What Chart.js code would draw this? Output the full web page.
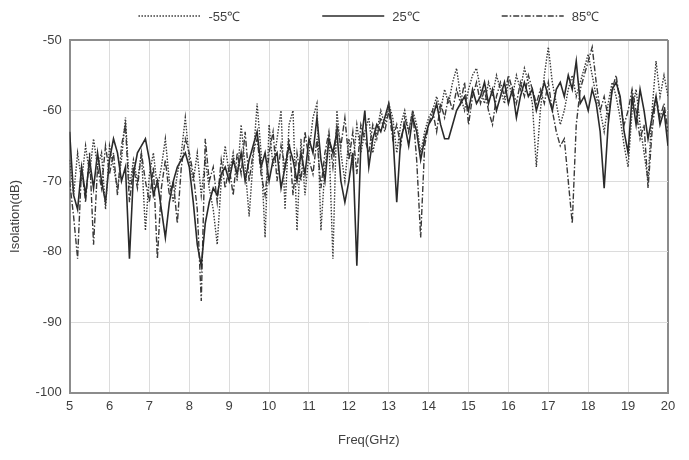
<!DOCTYPE html>
<html>
<head>
<meta charset="utf-8">
<script src="https://cdn.jsdelivr.net/npm/chart.js@4.4.1/dist/chart.umd.min.js"></script>
<style>
  html, body { margin: 0; padding: 0; background: #fff; }
  #wrap { width: 689px; height: 460px; }
</style>
</head>
<body>
<div id="wrap"><canvas id="isoChart"></canvas></div>
<script>
// Freq (GHz) points, 0.1 GHz step
const freq = [
  5.0,5.1,5.2,5.3,5.4,5.5,5.6,5.7,5.8,5.9,
  6.0,6.1,6.2,6.3,6.4,6.5,6.6,6.7,6.8,6.9,
  7.0,7.1,7.2,7.3,7.4,7.5,7.6,7.7,7.8,7.9,
  8.0,8.1,8.2,8.3,8.4,8.5,8.6,8.7,8.8,8.9,
  9.0,9.1,9.2,9.3,9.4,9.5,9.6,9.7,9.8,9.9,
  10.0,10.1,10.2,10.3,10.4,10.5,10.6,10.7,10.8,10.9,
  11.0,11.1,11.2,11.3,11.4,11.5,11.6,11.7,11.8,11.9,
  12.0,12.1,12.2,12.3,12.4,12.5,12.6,12.7,12.8,12.9,
  13.0,13.1,13.2,13.3,13.4,13.5,13.6,13.7,13.8,13.9,
  14.0,14.1,14.2,14.3,14.4,14.5,14.6,14.7,14.8,14.9,
  15.0,15.1,15.2,15.3,15.4,15.5,15.6,15.7,15.8,15.9,
  16.0,16.1,16.2,16.3,16.4,16.5,16.6,16.7,16.8,16.9,
  17.0,17.1,17.2,17.3,17.4,17.5,17.6,17.7,17.8,17.9,
  18.0,18.1,18.2,18.3,18.4,18.5,18.6,18.7,18.8,18.9,
  19.0,19.1,19.2,19.3,19.4,19.5,19.6,19.7,19.8,19.9,
  20.0
];

// Isolation (dB) at -55C
const isoCold = [
  -67,-72,-66,-70,-65,-69,-64,-68,-66,-74,
  -65,-68,-71,-67,-61,-71,-67,-70,-66,-77,
  -69,-66,-71,-68,-64,-70,-73,-69,-66,-61,
  -67,-70,-66,-72,-67,-71,-74,-79,-70,-65,
  -69,-66,-70,-62,-68,-75,-67,-59,-66,-78,
  -62,-68,-64,-60,-74,-62,-60,-77,-64,-72,
  -66,-61,-59,-77,-68,-64,-81,-60,-66,-70,
  -64,-68,-62,-66,-63,-61,-66,-63,-60,-62,
  -59,-61,-66,-62,-60,-63,-60,-62,-66,-63,
  -61,-60,-58,-60,-57,-59,-56,-54,-58,-60,
  -57,-55,-54,-57,-59,-56,-58,-55,-57,-59,
  -56,-58,-55,-57,-54,-56,-59,-68,-60,-55,
  -51,-56,-59,-62,-60,-57,-55,-58,-56,-54,
  -52,-55,-58,-60,-63,-59,-56,-58,-61,-65,
  -68,-60,-57,-62,-66,-70,-60,-53,-58,-55,
  -58
];

// Isolation (dB) at 25C
const isoRoom = [
  -63,-72,-74,-68,-72,-67,-71,-66,-70,-73,
  -67,-64,-66,-70,-68,-81,-69,-66,-65,-64,
  -67,-72,-70,-74,-78,-73,-70,-68,-67,-66,
  -68,-73,-79,-82,-76,-73,-71,-72,-69,-68,
  -70,-67,-69,-66,-70,-67,-65,-63,-68,-66,
  -70,-67,-66,-71,-68,-65,-67,-70,-66,-69,
  -64,-66,-61,-67,-70,-64,-66,-63,-70,-73,
  -70,-66,-82,-65,-60,-68,-64,-62,-63,-61,
  -59,-63,-73,-64,-62,-65,-61,-63,-67,-64,
  -62,-61,-59,-62,-64,-64,-62,-60,-59,-58,
  -60,-57,-59,-58,-56,-59,-57,-60,-58,-56,
  -59,-57,-61,-58,-56,-58,-57,-60,-58,-56,
  -58,-60,-57,-56,-58,-55,-57,-53,-59,-58,
  -60,-57,-59,-63,-71,-62,-57,-56,-58,-63,
  -66,-58,-62,-57,-60,-64,-61,-58,-62,-60,
  -65
];

// Isolation (dB) at 85C
const isoHot = [
  -70,-75,-81,-68,-73,-66,-79,-68,-71,-65,
  -69,-66,-72,-65,-62,-73,-68,-71,-66,-70,
  -73,-68,-81,-71,-67,-72,-70,-76,-68,-64,
  -66,-69,-74,-87,-64,-70,-68,-73,-67,-71,
  -68,-72,-66,-69,-63,-70,-66,-64,-69,-72,
  -66,-63,-70,-65,-68,-64,-72,-66,-70,-63,
  -67,-69,-64,-71,-66,-63,-68,-62,-65,-61,
  -67,-63,-69,-62,-64,-66,-62,-64,-61,-63,
  -60,-64,-62,-65,-61,-63,-60,-67,-78,-65,
  -62,-60,-63,-59,-61,-58,-60,-57,-59,-56,
  -62,-58,-56,-59,-57,-60,-62,-58,-56,-58,
  -55,-57,-59,-56,-58,-55,-57,-59,-57,-59,
  -56,-60,-63,-65,-64,-70,-76,-62,-57,-55,
  -53,-51,-56,-60,-58,-61,-57,-55,-59,-62,
  -60,-57,-60,-64,-62,-71,-63,-58,-61,-59,
  -63
];

const seriesNames = ['-55\u2103', '25\u2103', '85\u2103'];
const xTicks = [5,6,7,8,9,10,11,12,13,14,15,16,17,18,19,20];
const yTicks = [-100,-90,-80,-70,-60,-50];

const FONT = "'Liberation Sans Narrow', 'Liberation Sans', Arial, sans-serif";
const TEXT = '#404040';
const FRAME = '#8c8c8c';
const GRID = '#dcdcdc';

function pts(vals) {
  return freq.map((f, i) => ({ x: f, y: vals[i] }));
}

// legend drawn above the plot, using each dataset's own line style
const topLegend = {
  id: 'topLegend',
  afterDraw(chart) {
    const ctx = chart.ctx;
    const sets = chart.data.datasets;
    const lineW = 62, gap = 8, spacing = 82;
    ctx.save();
    ctx.font = '13px ' + FONT;
    const widths = sets.map(d => lineW + gap + ctx.measureText(d.label).width);
    const total = widths.reduce((a, b) => a + b, 0) + spacing * (sets.length - 1);
    const area = chart.chartArea;
    let x = (area.left + area.right) / 2 - total / 2;
    const y = 16;
    sets.forEach((d, i) => {
      ctx.beginPath();
      ctx.strokeStyle = d.borderColor;
      ctx.lineWidth = d.borderWidth;
      ctx.setLineDash(d.borderDash || []);
      ctx.moveTo(x, y);
      ctx.lineTo(x + lineW, y);
      ctx.stroke();
      ctx.setLineDash([]);
      ctx.fillStyle = TEXT;
      ctx.textBaseline = 'middle';
      ctx.textAlign = 'left';
      ctx.fillText(d.label, x + lineW + gap, y + 1);
      x += widths[i] + spacing;
    });
    ctx.restore();
  }
};

const ctx = document.getElementById('isoChart').getContext('2d');
new Chart(ctx, {
  type: 'line',
  data: {
    datasets: [
      {
        label: seriesNames[0],
        data: pts(isoCold),
        borderColor: '#3a3a3a',
        borderWidth: 1.4,
        borderDash: [1.5, 1.5],
        pointRadius: 0,
        tension: 0
      },
      {
        label: seriesNames[1],
        data: pts(isoRoom),
        borderColor: '#2a2a2a',
        borderWidth: 1.6,
        pointRadius: 0,
        tension: 0
      },
      {
        label: seriesNames[2],
        data: pts(isoHot),
        borderColor: '#3a3a3a',
        borderWidth: 1.4,
        borderDash: [6, 2, 1.5, 2],
        pointRadius: 0,
        tension: 0
      }
    ]
  },
  options: {
    responsive: true,
    maintainAspectRatio: false,
    animation: false,
    layout: { padding: { top: 40, right: 21, left: 4, bottom: 8 } },
    plugins: {
      legend: { display: false },
      tooltip: { enabled: false }
    },
    scales: {
      x: {
        type: 'linear',
        min: 5,
        max: 20,
        afterBuildTicks: axis => { axis.ticks = xTicks.map(v => ({ value: v })); },
        ticks: { color: TEXT, font: { family: FONT, size: 13 }, padding: 6, maxRotation: 0 },
        grid: {
          color: c => (c.tick && c.tick.value === 20 ? FRAME : GRID),
          lineWidth: c => (c.tick && c.tick.value === 20 ? 2 : 1),
          drawTicks: false
        },
        border: { color: FRAME, width: 2 },
        title: { display: true, text: 'Freq(GHz)', color: TEXT, font: { family: FONT, size: 13 }, padding: { top: 12 } }
      },
      y: {
        min: -100,
        max: -50,
        afterBuildTicks: axis => { axis.ticks = yTicks.map(v => ({ value: v })); },
        ticks: { color: TEXT, font: { family: FONT, size: 13 }, padding: 8 },
        grid: {
          color: c => (c.tick && c.tick.value === -50 ? FRAME : GRID),
          lineWidth: c => (c.tick && c.tick.value === -50 ? 2 : 1),
          drawTicks: false
        },
        border: { color: FRAME, width: 2 },
        title: { display: true, text: 'Isolation(dB)', color: TEXT, font: { family: FONT, size: 13 }, padding: { bottom: 4 } }
      }
    }
  },
  plugins: [topLegend]
});
</script>
</body>
</html>
